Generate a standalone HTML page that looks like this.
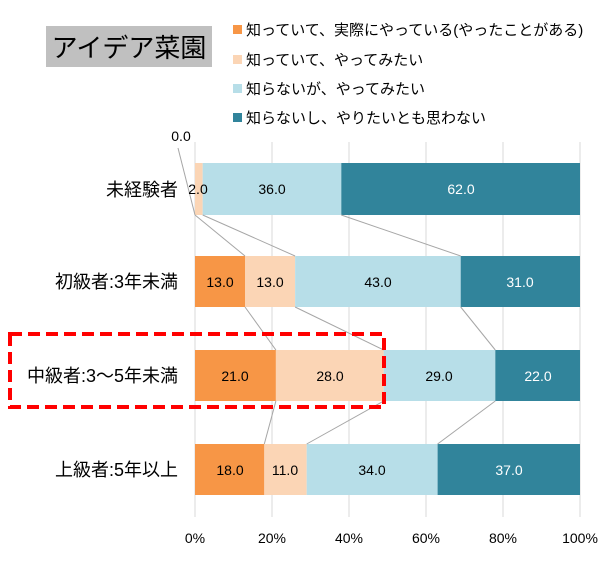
<!DOCTYPE html>
<html><head><meta charset="utf-8"><style>
body{margin:0;background:#fff;}
svg text{font-family:"Liberation Sans","Noto Sans CJK JP",sans-serif;}
</style></head><body>
<svg width="600" height="560" xmlns="http://www.w3.org/2000/svg">
<rect x="46" y="26" width="166" height="41" fill="#c0c0c0"/>
<text x="129" y="57" font-size="26" text-anchor="middle" fill="#000">アイデア菜園</text>
<g font-size="15" fill="#000">
<rect x="233" y="25" width="9" height="9" fill="#F79646"/><text x="246" y="35">知っていて、実際にやっている(やったことがある)</text>
<rect x="233" y="55" width="9" height="9" fill="#FBD5B5"/><text x="246" y="65">知っていて、やってみたい</text>
<rect x="233" y="84" width="9" height="9" fill="#B7DEE8"/><text x="246" y="94">知らないが、やってみたい</text>
<rect x="233" y="113" width="9" height="9" fill="#31849B"/><text x="246" y="123">知らないし、やりたいとも思わない</text>
</g>
<g stroke="#d9d9d9" stroke-width="1">
<line x1="195" y1="142" x2="195" y2="517"/><line x1="272" y1="142" x2="272" y2="517"/><line x1="349" y1="142" x2="349" y2="517"/><line x1="426" y1="142" x2="426" y2="517"/><line x1="503" y1="142" x2="503" y2="517"/><line x1="580" y1="142" x2="580" y2="517"/>
</g>
<g>
<rect x="195" y="163" width="7.7" height="52" fill="#FBD5B5"/>
<rect x="202.7" y="163" width="138.6" height="52" fill="#B7DEE8"/>
<rect x="341.3" y="163" width="238.7" height="52" fill="#31849B"/>

<rect x="195" y="256" width="50" height="51" fill="#F79646"/>
<rect x="245" y="256" width="50" height="51" fill="#FBD5B5"/>
<rect x="295.1" y="256" width="165.6" height="51" fill="#B7DEE8"/>
<rect x="460.7" y="256" width="119.3" height="51" fill="#31849B"/>

<rect x="195" y="350" width="80.9" height="51" fill="#F79646"/>
<rect x="275.9" y="350" width="107.8" height="51" fill="#FBD5B5"/>
<rect x="383.7" y="350" width="111.6" height="51" fill="#B7DEE8"/>
<rect x="495.3" y="350" width="84.7" height="51" fill="#31849B"/>

<rect x="195" y="444" width="69.3" height="51" fill="#F79646"/>
<rect x="264.3" y="444" width="42.4" height="51" fill="#FBD5B5"/>
<rect x="306.7" y="444" width="130.9" height="51" fill="#B7DEE8"/>
<rect x="437.6" y="444" width="142.4" height="51" fill="#31849B"/>
</g>
<g stroke="#a6a6a6" stroke-width="1" fill="none">
<line x1="178" y1="148" x2="195" y2="215"/>
<line x1="195" y1="215" x2="245" y2="256"/><line x1="202.7" y1="215" x2="295.1" y2="256"/><line x1="341.3" y1="215" x2="460.7" y2="256"/>
<line x1="245" y1="307" x2="275.9" y2="350"/><line x1="295.1" y1="307" x2="383.7" y2="350"/><line x1="460.7" y1="307" x2="495.3" y2="350"/>
<line x1="275.9" y1="401" x2="264.3" y2="444"/><line x1="383.7" y1="401" x2="306.7" y2="444"/><line x1="495.3" y1="401" x2="437.6" y2="444"/>
</g>
<g font-size="14" text-anchor="middle" fill="#000">
<text x="181" y="141">0.0</text>
<text x="198" y="194">2.0</text><text x="272" y="194">36.0</text><text x="461" y="194" fill="#fff">62.0</text>
<text x="220" y="287">13.0</text><text x="270" y="287">13.0</text><text x="378" y="287">43.0</text><text x="520" y="287" fill="#fff">31.0</text>
<text x="235" y="381">21.0</text><text x="330" y="381">28.0</text><text x="439" y="381">29.0</text><text x="538" y="381" fill="#fff">22.0</text>
<text x="230" y="475">18.0</text><text x="285" y="475">11.0</text><text x="372" y="475">34.0</text><text x="509" y="475" fill="#fff">37.0</text>
</g>
<g font-size="18" text-anchor="end" fill="#000">
<text x="178" y="196">未経験者</text>
<text x="178" y="288">初級者:3年未満</text>
<text x="178" y="382">中級者:3～5年未満</text>
<text x="178" y="476">上級者:5年以上</text>
</g>
<g font-size="14" text-anchor="middle" fill="#000">
<text x="195" y="543">0%</text><text x="272" y="543">20%</text><text x="349" y="543">40%</text><text x="426" y="543">60%</text><text x="503" y="543">80%</text><text x="580" y="543">100%</text>
</g>
<rect x="10" y="334" width="374" height="73" fill="none" stroke="#ff0000" stroke-width="4" stroke-dasharray="12,6"/>
</svg>
</body></html>
